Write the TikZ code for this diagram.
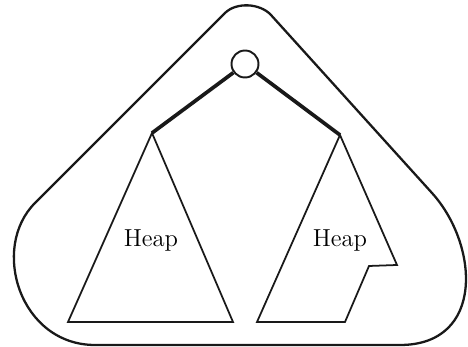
\documentclass[tikz,border=0pt]{standalone}
\usepackage{tikz}
\usetikzlibrary{positioning,calc}

\begin{document}
\begin{tikzpicture}[
  x=0.02cm, y=-0.02cm,
  font=\fontsize{14}{16}\selectfont,
  outline/.style={draw=black!90, line width=1.3pt, line join=round},
  heap/.style={draw=black!90, line width=1pt, line join=miter},
  link/.style={draw=black!90, line width=2.1pt},
  rootnode/.style={circle, draw=black!90, line width=1.1pt, inner sep=0pt,
    minimum size=0.54cm}
]
\useasboundingbox (0,0) rectangle (468,347);
% outer rounded triangle
\draw[outline] (225,13) .. controls (236,2) and (260,3) .. (271,15)
  -- (432,193) .. controls (479,245) and (485,345) .. (400,345)
  -- (95,345) .. controls (20,345) and (-10,248) .. (35,203) -- cycle;
% root and subtrees
\node[rootnode] (root) at (245,64) {};
\coordinate (lt) at (152,133);
\coordinate (rt) at (340,135);
\draw[link] (root) -- (lt);
\draw[link] (root) -- (rt);
\draw[heap] (lt) -- (68,322) -- (233,322) -- cycle;
\draw[heap] (rt) -- (397,265) -- (369,266) -- (345,322) -- (257,322) -- cycle;
\node (hl) at (151,240) {Heap};
\node (hr) at (340,240) {Heap};
\end{tikzpicture}
\end{document}
